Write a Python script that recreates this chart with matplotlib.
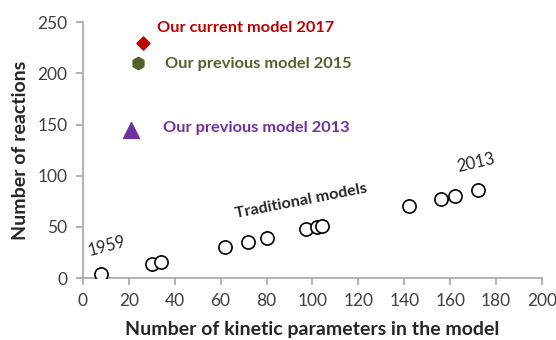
import matplotlib
matplotlib.use("Agg")
import matplotlib.pyplot as plt

# Data
trad_params = [8, 30, 34, 62, 72, 80, 97, 102, 104, 142, 156, 162, 172]
trad_reactions = [4, 14, 16, 30, 35, 39, 48, 50, 51, 70, 77, 80, 86]

current_2017 = (26, 230)
previous_2015 = (24, 210)
previous_2013 = (21, 145)

x_ticks = [0, 20, 40, 60, 80, 100, 120, 140, 160, 180, 200]
y_ticks = [0, 50, 100, 150, 200, 250]

red = "#C00000"
green = "#4F6228"
purple = "#7030A0"
gray = "#A6A6A6"

plt.rcParams['font.family'] = ['Lato', 'DejaVu Sans']

fig = plt.figure(figsize=(5.56, 3.40), dpi=100)
ax = fig.add_axes([0.149, 0.182, 0.826, 0.753])

ax.scatter(trad_params, trad_reactions, s=90, facecolors='white', edgecolors='black', linewidths=1.2, zorder=3)
ax.scatter([current_2017[0]], [current_2017[1]], marker='D', s=45, color=red, zorder=3)
ax.scatter([previous_2015[0]], [previous_2015[1]], marker='h', s=80, color=green, zorder=3)
ax.scatter([previous_2013[0]], [previous_2013[1]], marker='^', s=130, color=purple, zorder=3)

ax.set_xlim(0, 200)
ax.set_ylim(0, 250)
ax.set_xticks(x_ticks)
ax.set_yticks(y_ticks)
for s in ['top', 'right']:
    ax.spines[s].set_visible(False)
for s in ['left', 'bottom']:
    ax.spines[s].set_color(gray)
    ax.spines[s].set_linewidth(1.2)
ax.tick_params(axis='both', colors=gray, labelcolor='#404040', labelsize=12.5, length=5, width=1.2, pad=6)
ax.set_xlabel("Number of kinetic parameters in the model", fontsize=14, fontweight='bold', color='#262626', labelpad=8)
ax.set_ylabel("Number of reactions", fontsize=14, fontweight='bold', color='#262626', labelpad=6)

ax.text(32.2, 244, "Our current model 2017", color=red, fontsize=11.8, fontweight='bold', va='center')
ax.text(35.7, 209, "Our previous model 2015", color=green, fontsize=11.8, fontweight='bold', va='center')
ax.text(34.9, 147, "Our previous model 2013", color=purple, fontsize=11.8, fontweight='bold', va='center')

ax.text(10.5, 31, "1959", fontsize=12, rotation=15, color='#262626', ha='center', va='center')
ax.text(95, 75, "Traditional models", fontsize=11.7, fontweight='bold', rotation=11, color='#262626', ha='center', va='center')
ax.text(171, 113, "2013", fontsize=12, rotation=13, color='#262626', ha='center', va='center')

fig.savefig("out.png", dpi=100)
